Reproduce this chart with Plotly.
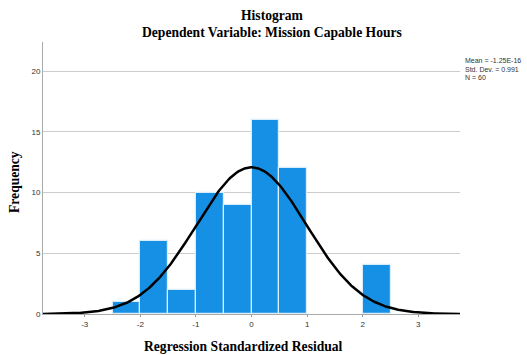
import numpy as np
import plotly.graph_objects as go

# Histogram bins (left edges) and frequencies
bin_left = [-2.5, -2.0, -1.5, -1.0, -0.5, 0.0, 0.5, 2.0]
freq = [1, 6, 2, 10, 9, 16, 12, 4]
bin_width = 0.5

# Summary statistics shown on chart
mean_val = -1.25e-16
std_val = 0.991
n_val = 60
stat_lines = ["Mean = -1.25E-16", "Std. Dev. = 0.991", "N = 60"]

x_ticks = [-3, -2, -1, 0, 1, 2, 3]
y_ticks = [0, 5, 10, 15, 20]

centers = [b + bin_width / 2 for b in bin_left]

xc = np.linspace(-3.75, 3.75, 400)
yc = n_val * bin_width * np.exp(-0.5 * ((xc - mean_val) / std_val) ** 2) / (std_val * np.sqrt(2 * np.pi))

W, H = 527, 355
L, R, T, B = 43, 67, 42, 41
pw, ph = W - L - R, H - T - B

def px(xp):
    return (xp - L) / pw

def py(yp):
    return (H - B - yp) / ph

serif = dict(family="Liberation Serif, Times New Roman, serif", size=13.6, color="black", weight="bold")
sans = dict(family="Liberation Sans, Arial, sans-serif", size=8, color="#333333")

fig = go.Figure()
fig.add_trace(go.Bar(
    x=centers, y=freq, width=bin_width,
    marker=dict(color="#1590e4", line=dict(color="#d8ecfa", width=1.2)),
    showlegend=False, hoverinfo="x+y"))
fig.add_trace(go.Scatter(
    x=xc, y=yc, mode="lines", line=dict(color="black", width=2.5),
    showlegend=False, hoverinfo="skip"))

fig.update_layout(
    width=W, height=H,
    margin=dict(l=L, r=R, t=T, b=B, autoexpand=False),
    paper_bgcolor="white", plot_bgcolor="white",
    bargap=0,
    xaxis=dict(
        range=[-3.75, 3.75], tickvals=x_ticks, ticktext=[str(v) for v in x_ticks],
        showgrid=False, zeroline=False, showline=True, linecolor="#aaaaaa", linewidth=1,
        ticks="outside", ticklen=2, tickcolor="#999999", automargin=False,
        tickfont=sans),
    yaxis=dict(
        range=[0, 22.4], tickvals=y_ticks, ticktext=[str(v) for v in y_ticks],
        showgrid=True, gridcolor="#cccccc", gridwidth=1, zeroline=False,
        showline=True, linecolor="#aaaaaa", linewidth=1, ticks="", automargin=False,
        tickfont=sans),
)

# Titles
fig.add_annotation(xref="paper", yref="paper", x=px(272), y=py(16), xanchor="center", yanchor="middle",
                   showarrow=False, text="Histogram", font=serif)
fig.add_annotation(xref="paper", yref="paper", x=px(272), y=py(33), xanchor="center", yanchor="middle",
                   showarrow=False, text="Dependent Variable: Mission Capable Hours", font=serif)
fig.add_annotation(xref="paper", yref="paper", x=px(243), y=py(346), xanchor="center", yanchor="middle",
                   showarrow=False, text="Regression Standardized Residual", font=serif)
fig.add_annotation(xref="paper", yref="paper", x=px(14), y=py(182), xanchor="center", yanchor="middle",
                   showarrow=False, text="Frequency", textangle=-90, font=serif)

# Stats box text
for i, s in enumerate(stat_lines):
    fig.add_annotation(xref="paper", yref="paper", x=px(464), y=py(61 + 8 * i), xanchor="left", yanchor="middle",
                       showarrow=False, text=s, align="left", borderpad=0,
                       font=dict(family="Liberation Sans, Arial, sans-serif", size=7, color="#333333"))

fig.write_html("out.html", config={"displayModeBar": False})

# remove default page margins so the figure sits at the window's top-left corner
with open("out.html", "r", encoding="utf-8") as f:
    html = f.read()
html = html.replace("<head>", "<head><style>html,body{margin:0;padding:0;overflow:hidden;}</style>", 1)
with open("out.html", "w", encoding="utf-8") as f:
    f.write(html)
